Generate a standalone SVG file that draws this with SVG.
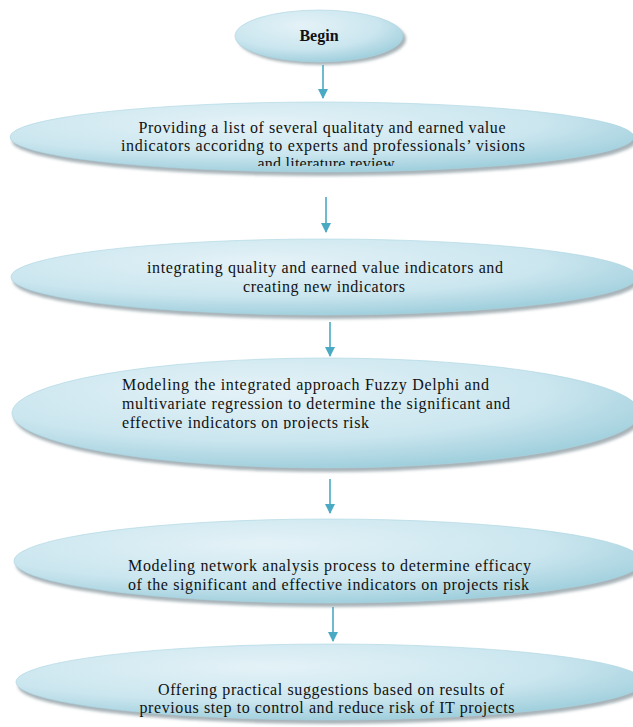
<svg xmlns="http://www.w3.org/2000/svg" width="633" height="727" viewBox="0 0 633 727">
<defs>
<linearGradient id="g" x1="0.2" y1="0" x2="0.6" y2="1">
<stop offset="0" stop-color="#e2f1f6"/>
<stop offset="0.5" stop-color="#cfe8f0"/>
<stop offset="1" stop-color="#9ccfdd"/>
</linearGradient>
<radialGradient id="rg" cx="0.4" cy="0.3" r="0.75">
<stop offset="0" stop-color="#e4f2f7"/>
<stop offset="0.6" stop-color="#cbe6ef"/>
<stop offset="1" stop-color="#9accda"/>
</radialGradient>
<filter id="sh" x="-5%" y="-20%" width="110%" height="150%">
<feGaussianBlur stdDeviation="1.5"/>
</filter>
<marker id="ah" viewBox="0 0 10 10" refX="9" refY="5" markerWidth="10" markerHeight="10" markerUnits="userSpaceOnUse" orient="auto">
<path d="M0,0 L10,5 L0,10 Z" fill="#4aaac4"/>
</marker>
<clipPath id="c2"><rect x="0" y="90" width="633" height="76"/></clipPath>
<clipPath id="c4"><rect x="0" y="350" width="633" height="79"/></clipPath>
</defs>
<style>
.sh{fill:#8a9aa0;opacity:0.75;filter:url(#sh)}
.e{fill:url(#rg);stroke:#a9d4e0;stroke-width:0.6}
.t{font-family:"Liberation Serif","Times New Roman",serif;font-size:16px;fill:#111}
.b{font-weight:bold}
.m{text-anchor:middle}
.c{stroke:#4aaac4;stroke-width:1.6;fill:none;marker-end:url(#ah)}
</style>
<g id="connectors">
<line class="c" x1="323" y1="65" x2="323" y2="98"/>
<line class="c" x1="326" y1="197" x2="326" y2="232"/>
<line class="c" x1="330" y1="322" x2="330" y2="356"/>
<line class="c" x1="330" y1="479" x2="330" y2="513"/>
<line class="c" x1="333" y1="607" x2="333" y2="641"/>
</g>
<g id="begin">
<ellipse class="sh" cx="322" cy="39" rx="84" ry="26"/>
<ellipse class="e" cx="319" cy="36" rx="84" ry="26"/>
<text class="t b m" x="319" y="41">Begin</text>
</g>
<g id="step1">
<ellipse class="sh" cx="324" cy="141" rx="312" ry="35"/>
<ellipse class="e" cx="322" cy="137" rx="312" ry="35"/>
<g clip-path="url(#c2)">
<text class="t m" x="322" y="133" textLength="367">Providing a list of several qualitaty and earned value</text>
<text class="t m" x="323" y="151" textLength="404">indicators accoridng  to experts and professionals’ visions</text>
<text class="t m" x="326" y="169" textLength="137">and literature  review</text>
</g>
</g>
<g id="step2">
<ellipse class="sh" cx="326" cy="281" rx="313" ry="38"/>
<ellipse class="e" cx="324" cy="277" rx="313" ry="38"/>
<text class="t m" x="325" y="273" textLength="356">integrating  quality and earned value indicators and</text>
<text class="t m" x="324" y="292" textLength="162">creating  new indicators</text>
</g>
<g id="step3">
<ellipse class="sh" cx="328" cy="417" rx="314" ry="55"/>
<ellipse class="e" cx="326" cy="413" rx="314" ry="55"/>
<g clip-path="url(#c4)">
<text class="t" x="122" y="390" textLength="367">Modeling  the integrated  approach Fuzzy Delphi and</text>
<text class="t" x="122" y="409" textLength="388">multivariate  regression to determine  the significant and</text>
<text class="t" x="122" y="428" textLength="247">effective  indicators on projects risk</text>
</g>
</g>
<g id="step4">
<ellipse class="sh" cx="330" cy="565" rx="314" ry="42"/>
<ellipse class="e" cx="328" cy="561" rx="314" ry="42"/>
<text class="t" x="128" y="571" textLength="403">Modeling network analysis process to determine  efficacy</text>
<text class="t" x="128" y="590" textLength="401">of the significant and effective  indicators on projects risk</text>
</g>
<g id="step5">
<ellipse class="sh" cx="332" cy="686" rx="314" ry="38"/>
<ellipse class="e" cx="330" cy="682" rx="314" ry="38"/>
<text class="t m" x="331" y="695" textLength="346">Offering practical  suggestions based on results of</text>
<text class="t m" x="327" y="713" textLength="375">previous step to control and reduce risk of IT projects</text>
</g>
</svg>
